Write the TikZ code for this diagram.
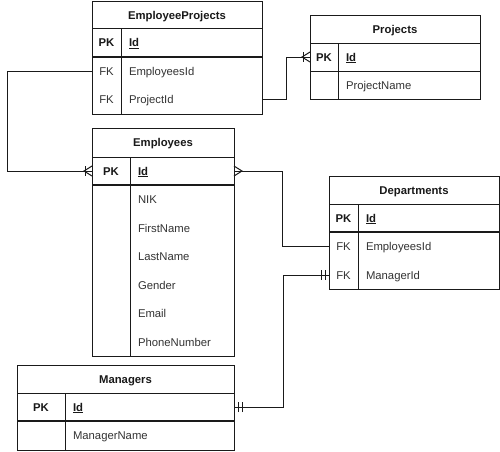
\documentclass[tikz,border=0pt]{standalone}
\usepackage{fontspec}
\setmainfont{Liberation Sans}
\definecolor{ln}{HTML}{1A1A1A}
\definecolor{txt}{HTML}{333333}
\begin{document}
\begin{tikzpicture}[x=1pt,y=-1pt,
  every node/.style={inner sep=0pt, outer sep=0pt, text height=8.1pt, text depth=0pt, font=\fontsize{11.3}{13}\selectfont, text=txt},
  tbl/.style={draw=ln, line width=1pt, rectangle, fill=white},
  rowbox/.style={rectangle, minimum height=28},
  hdr/.style={font=\fontsize{11.3}{13}\selectfont\bfseries, text=black!90},
  pkt/.style={font=\fontsize{11.3}{13}\selectfont\bfseries, text=black!90},
  fkt/.style={},
  fld/.style={anchor=west},
  idt/.style={anchor=west, font=\fontsize{11.3}{13}\selectfont\bfseries, text=black!90},
  sep/.style={draw=ln, line width=1pt},
  pksep/.style={draw=ln, line width=1.7pt},
  conn/.style={draw=ln, line width=1pt},
  crowmany/.pic={\draw[conn] (0,-5) -- (-8,0) -- (0,5);},
  onebar/.pic={\draw[conn] (-7,-5) -- (-7,5);},
  twobar/.pic={\draw[conn] (-4,-5) -- (-4,5) (-8,-5) -- (-8,5);}
]
\useasboundingbox (0,0) rectangle (500,451);

% ---------- EmployeeProjects ----------
\node[tbl, minimum width=170, minimum height=113] (ep) at (177,57.5) {};
\node[hdr] (eph) at (177,15) {EmployeeProjects};
\draw[sep] (92,28) -- (262,28);
\draw[pksep] (92,57) -- (262,57);
\draw[sep] (121,28) -- (121,114);
\node[rowbox, minimum width=170] (eppk) at (177,42.5) {};
\node[rowbox, minimum width=170] (epemp) at (177,71) {};
\node[rowbox, minimum width=170] (epproj) at (177,99.5) {};
\node[pkt] (eppkk) at (106.5,42.5) {PK};
\node[idt] (eppkf) at (129,42.5) {\underline{Id}};
\node[fkt] (epempk) at (106.5,71) {FK};
\node[fld] (epempf) at (129,71) {EmployeesId};
\node[fkt] (epprojk) at (106.5,99.5) {FK};
\node[fld] (epprojf) at (129,99.5) {ProjectId};

% ---------- Projects ----------
\node[tbl, minimum width=170, minimum height=84] (prj) at (395,57) {};
\node[hdr] (prjh) at (395,29) {Projects};
\draw[sep] (310,43) -- (480,43);
\draw[sep] (310,71) -- (480,71);
\draw[sep] (338,43) -- (338,99);
\node[rowbox, minimum width=170] (prjpk) at (395,57) {};
\node[rowbox, minimum width=170] (prjname) at (395,85) {};
\node[pkt] (prjpkk) at (324,57) {PK};
\node[idt] (prjpkf) at (346,57) {\underline{Id}};
\node[fld] (prjnamef) at (346,85) {ProjectName};

% ---------- Employees ----------
\node[tbl, minimum width=142, minimum height=228] (emp) at (163,242) {};
\node[hdr] (emph) at (163,142.5) {Employees};
\draw[sep] (92,157) -- (234,157);
\draw[pksep] (92,185) -- (234,185);
\draw[sep] (130,157) -- (130,356);
\node[rowbox, minimum width=142] (emppk) at (163,171) {};
\node[pkt] (emppkk) at (111,171) {PK};
\node[idt] (emppkf) at (138,171) {\underline{Id}};
\node[fld] (empf1) at (138,199.5) {NIK};
\node[fld] (empf2) at (138,228) {FirstName};
\node[fld] (empf3) at (138,256.5) {LastName};
\node[fld] (empf4) at (138,285) {Gender};
\node[fld] (empf5) at (138,313.5) {Email};
\node[fld] (empf6) at (138,342) {PhoneNumber};

% ---------- Departments ----------
\node[tbl, minimum width=170, minimum height=113] (dep) at (414,232.5) {};
\node[hdr] (deph) at (414,190) {Departments};
\draw[sep] (329,204) -- (499,204);
\draw[pksep] (329,232) -- (499,232);
\draw[sep] (358,204) -- (358,289);
\node[rowbox, minimum width=170] (deppk) at (414,218) {};
\node[rowbox, minimum width=170] (depemp) at (414,246.5) {};
\node[rowbox, minimum width=170] (depmgr) at (414,275) {};
\node[pkt] (deppkk) at (343.5,218) {PK};
\node[idt] (deppkf) at (366,218) {\underline{Id}};
\node[fkt] (depempk) at (343.5,246.5) {FK};
\node[fld] (depempf) at (366,246.5) {EmployeesId};
\node[fkt] (depmgrk) at (343.5,275) {FK};
\node[fld] (depmgrf) at (366,275) {ManagerId};

% ---------- Managers ----------
\node[tbl, minimum width=217, minimum height=85] (mgr) at (125.5,407.5) {};
\node[hdr] (mgrh) at (125.5,379) {Managers};
\draw[sep] (17,393) -- (234,393);
\draw[pksep] (17,421) -- (234,421);
\draw[sep] (65,393) -- (65,450);
\node[rowbox, minimum width=217] (mgrpk) at (125.5,407) {};
\node[rowbox, minimum width=217] (mgrname) at (125.5,435.5) {};
\node[pkt] (mgrpkk) at (41,407) {PK};
\node[idt] (mgrpkf) at (73,407) {\underline{Id}};
\node[fld] (mgrnamef) at (73,435.5) {ManagerName};

% ---------- Connectors ----------
\draw[conn] (epemp.west) -- ++(-85,0) |- (emppk.west);
\pic at (emppk.west) {crowmany};
\pic at (emppk.west) {onebar};

\draw[conn] (epproj.east) -- ++(24,0) |- (prjpk.west);
\pic at (prjpk.west) {crowmany};
\pic at (prjpk.west) {onebar};

\draw[conn] (emppk.east) -- ++(48,0) |- (depemp.west);
\pic[rotate=180] at (emppk.east) {crowmany};

\draw[conn] (mgrpk.east) -- ++(49,0) |- (depmgr.west);
\pic[rotate=180] at (mgrpk.east) {twobar};
\pic at (depmgr.west) {twobar};
\end{tikzpicture}
\end{document}
